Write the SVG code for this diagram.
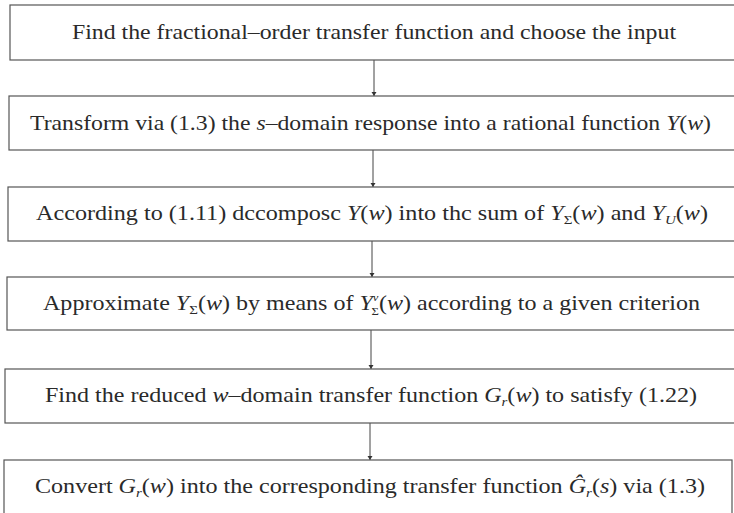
<svg xmlns="http://www.w3.org/2000/svg" width="734" height="513" viewBox="0 0 734 513">
<defs>
<style>
.box{fill:#fff;stroke:#555;stroke-width:1.2}
.t{font-family:"Liberation Serif","Times New Roman",serif;font-size:21px;fill:#2a2a2a}
.i{font-style:italic}
.s{font-size:13px}
.ss{font-size:11px}
.c{stroke:#444;stroke-width:1;fill:none}
</style>
<marker id="ah" viewBox="0 0 8 10" refX="8" refY="5" markerWidth="4" markerHeight="6" markerUnits="userSpaceOnUse" orient="auto">
<path d="M0,0 L8,5 L0,10 z" fill="#333"/>
</marker>
</defs>
<rect width="734" height="513" fill="#fff"/>
<g id="connectors">
<line class="c" x1="374" y1="60" x2="374" y2="96" marker-end="url(#ah)"/>
<line class="c" x1="373" y1="150" x2="373" y2="187" marker-end="url(#ah)"/>
<line class="c" x1="372" y1="241" x2="372" y2="277" marker-end="url(#ah)"/>
<line class="c" x1="371" y1="330" x2="371" y2="369" marker-end="url(#ah)"/>
<line class="c" x1="370" y1="423" x2="370" y2="460" marker-end="url(#ah)"/>
</g>
<g id="n1">
<rect class="box" x="10" y="5" width="730" height="55"/>
<text class="t" x="72" y="39" textLength="604" lengthAdjust="spacingAndGlyphs">Find the fractional–order transfer function and choose the input</text>
</g>
<g id="n2">
<rect class="box" x="9" y="96" width="730" height="54"/>
<text class="t" x="30" y="130" textLength="681" lengthAdjust="spacingAndGlyphs">Transform via (1.3) the <tspan class="i">s</tspan>–domain response into a rational function <tspan class="i">Y</tspan>(<tspan class="i">w</tspan>)</text>
</g>
<g id="n3">
<rect class="box" x="8" y="187" width="730" height="54"/>
<text class="t" x="36" y="220" textLength="672" lengthAdjust="spacingAndGlyphs">According to (1.11) dccomposc <tspan class="i">Y</tspan>(<tspan class="i">w</tspan>) into thc sum of <tspan class="i">Y</tspan><tspan class="s" dy="4">Σ</tspan><tspan dy="-4">(</tspan><tspan class="i">w</tspan>) and <tspan class="i">Y</tspan><tspan class="s i" dy="4">U</tspan><tspan dy="-4">(</tspan><tspan class="i">w</tspan>)</text>
</g>
<g id="n4">
<rect class="box" x="7" y="277" width="730" height="53"/>
<text class="t" x="43" y="310" textLength="657" lengthAdjust="spacingAndGlyphs">Approximate <tspan class="i">Y</tspan><tspan class="s" dy="4">Σ</tspan><tspan dy="-4">(</tspan><tspan class="i">w</tspan>) by means of <tspan class="i">Y</tspan><tspan class="ss i" dy="-9">ν</tspan><tspan class="ss" dx="-6" dy="14">Σ</tspan><tspan dy="-5">(</tspan><tspan class="i">w</tspan>) according to a given criterion</text>
</g>
<g id="n5">
<rect class="box" x="5" y="369" width="732" height="54"/>
<text class="t" x="45" y="402" textLength="652" lengthAdjust="spacingAndGlyphs">Find the reduced <tspan class="i">w</tspan>–domain transfer function <tspan class="i">G</tspan><tspan class="s i" dy="4">r</tspan><tspan dy="-4">(</tspan><tspan class="i">w</tspan>) to satisfy (1.22)</text>
</g>
<g id="n6">
<rect class="box" x="4" y="460" width="728" height="60"/>
<text class="t" x="35" y="493" textLength="670" lengthAdjust="spacingAndGlyphs">Convert <tspan class="i">G</tspan><tspan class="s i" dy="4">r</tspan><tspan dy="-4">(</tspan><tspan class="i">w</tspan>) into the corresponding transfer function <tspan class="i">Ĝ</tspan><tspan class="s i" dy="4">r</tspan><tspan dy="-4">(</tspan><tspan class="i">s</tspan>) via (1.3)</text>
</g>
</svg>
